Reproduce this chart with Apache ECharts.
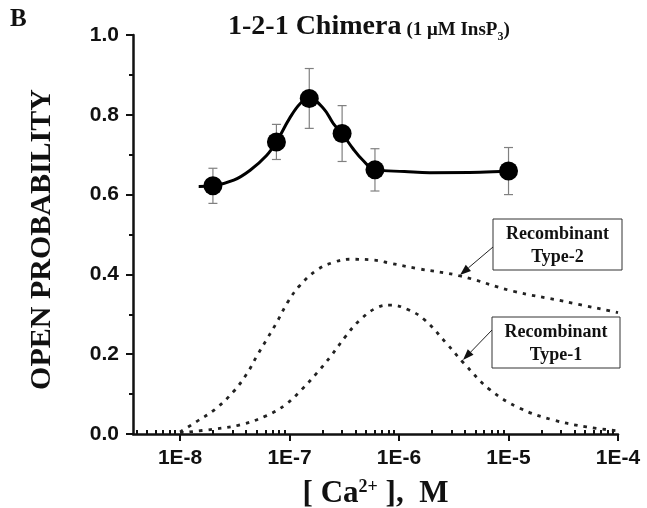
<!DOCTYPE html>
<html>
<head>
<meta charset="utf-8">
<script src="https://cdn.jsdelivr.net/npm/echarts@6/dist/echarts.min.js"></script>
<style>
  html, body { margin: 0; padding: 0; background: #fff; }
  #main { width: 647px; height: 508px; }
</style>
</head>
<body>
<div id="main"></div>
<script>
// log10 [Ca2+] (M) of measured points and their open probability
const caLog = [-7.70, -7.12, -6.82, -6.52, -6.22, -5.00];
const openProb = [0.622, 0.732, 0.841, 0.753, 0.662, 0.659];
const probErr = [0.044, 0.044, 0.075, 0.070, 0.053, 0.059];

// fitted curve for the 1-2-1 chimera
const fitLog = [-7.83, -7.70, -7.51, -7.36, -7.21, -7.12, -7.00, -6.90, -6.82, -6.69, -6.60, -6.52, -6.42, -6.33, -6.22, -5.95, -5.72, -5.26, -5.00];
const fitProb = [0.620, 0.622, 0.636, 0.661, 0.698, 0.732, 0.791, 0.829, 0.841, 0.816, 0.778, 0.753, 0.715, 0.686, 0.662, 0.658, 0.655, 0.656, 0.659];

// recombinant type-2 (dotted)
const type2Log = [-8.00, -7.85, -7.68, -7.51, -7.39, -7.30, -7.20, -7.11, -7.02, -6.91, -6.75, -6.59, -6.45, -6.23, -6.08, -5.84, -5.44, -4.96, -4.50, -4.00];
const type2Prob = [0.005, 0.031, 0.062, 0.107, 0.151, 0.195, 0.241, 0.283, 0.329, 0.371, 0.411, 0.431, 0.438, 0.436, 0.428, 0.415, 0.396, 0.358, 0.333, 0.304];

// recombinant type-1 (dotted)
const type1Log = [-8.00, -7.70, -7.45, -7.21, -7.04, -6.89, -6.75, -6.62, -6.49, -6.36, -6.20, -6.07, -5.92, -5.77, -5.56, -5.41, -5.17, -4.90, -4.59, -4.29, -4.00];
const type1Prob = [0.003, 0.012, 0.023, 0.046, 0.073, 0.111, 0.153, 0.196, 0.244, 0.285, 0.317, 0.323, 0.312, 0.287, 0.225, 0.178, 0.111, 0.065, 0.035, 0.018, 0.008];

const decades = [-8, -7, -6, -5, -4];
const xMin = -8.43, xMax = -4;

const serif = '"Liberation Serif", "DejaVu Serif", serif';
const sans = '"Liberation Sans", Arial, sans-serif';
const ink = '#111';

// log minor ticks (2..9 within each decade)
const minorTicks = [];
for (let d = -9; d < -4; d++) {
  for (let k = 2; k <= 9; k++) {
    const v = d + Math.log10(k);
    if (v > xMin && v < xMax) minorTicks.push(v);
  }
}

const zip = (a, b) => a.map((v, i) => [v, b[i]]);

function arrow(x1, y1, x2, y2) {
  const dx = x2 - x1, dy = y2 - y1, len = Math.hypot(dx, dy);
  const ux = dx / len, uy = dy / len;
  const bx = x2 - ux * 11, by = y2 - uy * 11;
  const px = -uy * 4, py = ux * 4;
  return [
    { type: 'line', shape: { x1: x1, y1: y1, x2: bx, y2: by }, style: { stroke: '#222', lineWidth: 1 } },
    { type: 'polygon', shape: { points: [[x2, y2], [bx + px, by + py], [bx - px, by - py]] }, style: { fill: '#111' } }
  ];
}

function box(x, y, w, h, label) {
  return [
    { type: 'rect', shape: { x: x, y: y, width: w, height: h }, style: { fill: '#fff', stroke: '#333', lineWidth: 1 } },
    { type: 'text', x: x + w / 2, y: y + h / 2 + 1,
      style: { text: label, align: 'center', verticalAlign: 'middle', font: 'bold 18px ' + serif, lineHeight: 23, fill: ink } }
  ];
}

const myChart = echarts.init(document.getElementById('main'));

const option = {
  animation: false,
  backgroundColor: '#fff',
  grid: { left: 133, right: 29, top: 35, bottom: 74, containLabel: false, outerBoundsMode: 'none' },
  title: {
    text: '{a|1-2-1 Chimera} {b|(1 μM InsP}{s|3}{b|)}',
    left: 223,
    top: 6,
    textStyle: {
      rich: {
        a: { fontFamily: serif, fontWeight: 'bold', fontSize: 28, color: ink, lineHeight: 32 },
        b: { fontFamily: serif, fontWeight: 'bold', fontSize: 19, color: ink, lineHeight: 32, verticalAlign: 'bottom', padding: [0, 0, 3, 0] },
        s: { fontFamily: serif, fontWeight: 'bold', fontSize: 12, color: ink, lineHeight: 32, verticalAlign: 'bottom' }
      }
    }
  },
  xAxis: [
    {
      type: 'value',
      min: xMin,
      max: xMax,
      splitLine: { show: false },
      axisLine: { show: true, onZero: false, lineStyle: { color: ink, width: 2.5 } },
      axisTick: { show: true, customValues: decades, length: 7, lineStyle: { color: ink, width: 2 } },
      axisLabel: {
        customValues: decades,
        formatter: v => '1E' + v,
        margin: 14,
        color: ink,
        fontFamily: sans,
        fontWeight: 'bold',
        fontSize: 21
      },
      name: '{a|[ Ca}{sup|2+}{a| ],  M}',
      nameLocation: 'middle',
      nameGap: 44,
      nameTextStyle: {
        rich: {
          a: { fontFamily: serif, fontWeight: 'bold', fontSize: 31, color: ink, lineHeight: 32 },
          sup: { fontFamily: serif, fontWeight: 'bold', fontSize: 18, color: ink, lineHeight: 32, verticalAlign: 'top' }
        }
      }
    },
    {
      type: 'value',
      min: xMin,
      max: xMax,
      splitLine: { show: false },
      axisLine: { show: false },
      axisTick: { show: true, customValues: minorTicks, length: 4, lineStyle: { color: ink, width: 2 } },
      axisLabel: { show: false }
    }
  ],
  yAxis: {
    type: 'value',
    min: 0,
    max: 1,
    interval: 0.2,
    splitLine: { show: false },
    axisLine: { show: true, lineStyle: { color: ink, width: 2.5 } },
    axisTick: { show: true, length: 7, lineStyle: { color: ink, width: 2 } },
    minorTick: { show: true, splitNumber: 2, length: 4, lineStyle: { color: ink, width: 2 } },
    axisLabel: {
      formatter: v => v.toFixed(1),
      margin: 14,
      color: ink,
      fontFamily: sans,
      fontWeight: 'bold',
      fontSize: 21
    },
    name: 'OPEN PROBABILITY',
    nameLocation: 'middle',
    nameGap: 76,
    nameRotate: 90,
    nameTextStyle: { fontFamily: serif, fontWeight: 'bold', fontSize: 30, color: ink, padding: [0, 10, 0, 0] }
  },
  series: [
    {
      name: 'Type-2',
      type: 'line',
      data: zip(type2Log, type2Prob),
      smooth: 0.4,
      showSymbol: false,
      lineStyle: { color: '#222', width: 2.8, type: [3.5, 6] },
      z: 2
    },
    {
      name: 'Type-1',
      type: 'line',
      data: zip(type1Log, type1Prob),
      smooth: 0.4,
      showSymbol: false,
      lineStyle: { color: '#222', width: 2.8, type: [3.5, 6] },
      z: 2
    },
    {
      name: 'fit',
      type: 'line',
      data: zip(fitLog, fitProb),
      smooth: 0.4,
      showSymbol: false,
      lineStyle: { color: '#000', width: 3 },
      z: 3
    },
    {
      name: 'error',
      type: 'custom',
      data: caLog.map((x, i) => [x, openProb[i] - probErr[i], openProb[i] + probErr[i]]),
      renderItem: function (params, api) {
        const top = api.coord([api.value(0), api.value(2)]);
        const bot = api.coord([api.value(0), api.value(1)]);
        const w = 4.5;
        const st = { stroke: '#808080', lineWidth: 1.2 };
        return {
          type: 'group',
          children: [
            { type: 'line', shape: { x1: top[0], y1: top[1], x2: bot[0], y2: bot[1] }, style: st },
            { type: 'line', shape: { x1: top[0] - w, y1: top[1], x2: top[0] + w, y2: top[1] }, style: st },
            { type: 'line', shape: { x1: bot[0] - w, y1: bot[1], x2: bot[0] + w, y2: bot[1] }, style: st }
          ]
        };
      },
      z: 4
    },
    {
      name: 'Chimera',
      type: 'scatter',
      data: zip(caLog, openProb),
      symbol: 'circle',
      symbolSize: 19,
      itemStyle: { color: '#000', opacity: 1 },
      z: 5
    }
  ],
  graphic: [
    { type: 'text', left: 10, top: 7, style: { text: 'B', font: 'bold 25px ' + serif, fill: ink } },
    ...box(493, 219, 129, 51, 'Recombinant\nType-2'),
    ...arrow(493, 247, 460, 275),
    ...box(492, 317, 128, 51, 'Recombinant\nType-1'),
    ...arrow(492, 330, 463, 360)
  ]
};

myChart.setOption(option);
</script>
</body>
</html>
